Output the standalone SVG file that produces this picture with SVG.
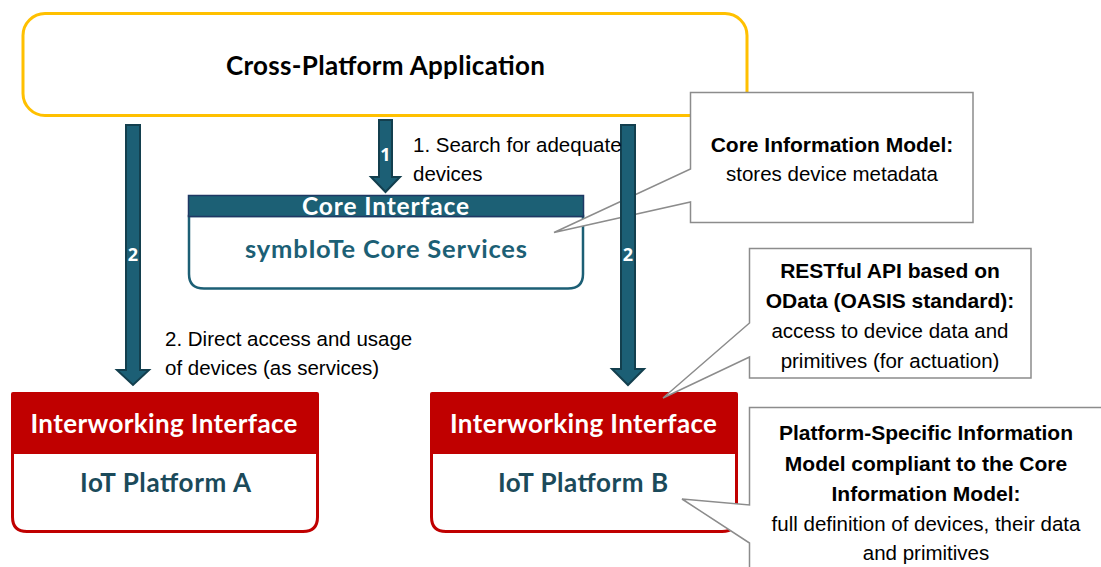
<svg xmlns="http://www.w3.org/2000/svg" width="1101" height="567" viewBox="0 0 1101 567">
<style>
.title{font-family:Lato,"Open Sans","Liberation Sans",sans-serif;font-weight:700;text-anchor:middle}
.arial{font-family:"Liberation Sans",Arial,sans-serif;font-size:20.5px;fill:#000}
.cb{font-family:"Liberation Sans",Arial,sans-serif;font-size:21px;font-weight:700;fill:#000;text-anchor:middle}
.cr{font-family:"Liberation Sans",Arial,sans-serif;font-size:20.5px;fill:#000;text-anchor:middle}
.callout{fill:#fff;stroke:#8c8c8c;stroke-width:1.5}
.arrow{fill:#1c5f75;stroke:#133f4e;stroke-width:2;stroke-linejoin:miter}
.num{font-family:"Open Sans","Liberation Sans",sans-serif;font-weight:700;font-size:18px;fill:#fff;text-anchor:middle}
.red{fill:#c00000}
.redbody{fill:#fff;stroke:#c00000;stroke-width:3}
</style>
<rect width="1101" height="567" fill="#fff"/>

<g id="app">
<rect x="23" y="13.5" width="724" height="102" rx="22" ry="22" fill="#fff" stroke="#ffc000" stroke-width="3"/>
<text class="title" x="385.5" y="75" font-size="26" fill="#000" textLength="319">Cross-Platform Application</text>
</g>

<g id="core">
<path d="M189,216 H583 V274 Q583,288.5 568,288.5 H204 Q189,288.5 189,274 Z" fill="#fff" stroke="#1c5f75" stroke-width="2.5"/>
<rect x="188.5" y="195.5" width="395" height="21" fill="#1c6075" stroke="#1f3864" stroke-width="1.5"/>
<text class="title" x="385.5" y="215" font-size="24.5" fill="#fff" textLength="167">Core Interface</text>
<text class="title" x="386" y="258" font-size="25.5" fill="#1c5f75" textLength="282">symbIoTe Core Services</text>
</g>

<g id="callout-cim">
<path class="callout" d="M690.5,92.5 H973 V222.5 H690.5 V202 L554,232.5 L690.5,169 Z"/>
<text class="cb" x="832" y="152">Core Information Model:</text>
<text class="cr" x="832" y="181">stores device metadata</text>
</g>

<g id="platformA">
<path class="redbody" d="M12.5,440 H317.5 V517 Q317.5,531.5 303,531.5 H27 Q12.5,531.5 12.5,517 Z"/>
<rect class="red" x="11" y="392" width="308" height="62" rx="2"/>
<text class="title" x="164" y="433" font-size="26" fill="#fff" textLength="267">Interworking Interface</text>
<text class="title" x="165.5" y="492" font-size="26" fill="#1b4a5a" textLength="171">IoT Platform A</text>
</g>

<g id="platformB">
<path class="redbody" d="M431.5,440 H736.5 V517 Q736.5,531.5 722,531.5 H446 Q431.5,531.5 431.5,517 Z"/>
<rect class="red" x="430" y="392" width="308" height="62" rx="2"/>
<text class="title" x="583.5" y="433" font-size="26" fill="#fff" textLength="267">Interworking Interface</text>
<text class="title" x="583" y="492" font-size="26" fill="#1b4a5a" textLength="170">IoT Platform B</text>
</g>

<g id="callout-rest">
<path class="callout" d="M749.5,248.5 H1031 V378 H749.5 V357 L663,398 L749.5,323 Z"/>
<text class="cb" x="890" y="278">RESTful API based on</text>
<text class="cb" x="890" y="308">OData (OASIS standard):</text>
<text class="cr" x="890" y="338">access to device data and</text>
<text class="cr" x="890" y="368">primitives (for actuation)</text>
</g>

<g id="callout-psim">
<path class="callout" d="M749.5,407.5 H1110 V580 H749.5 V543 L682,499 L749.5,505 Z"/>
<text class="cb" x="926" y="440">Platform-Specific Information</text>
<text class="cb" x="926" y="470.5">Model compliant to the Core</text>
<text class="cb" x="926" y="500.5">Information Model:</text>
<text class="cr" x="926" y="530.5">full definition of devices, their data</text>
<text class="cr" x="926" y="560">and primitives</text>
</g>

<g id="connectors">
<polygon class="arrow" points="126,125 140,125 140,370 149,370 133,385 117,370 126,370"/>
<text class="num" x="133" y="261">2</text>
<polygon class="arrow" points="379,120 392,120 392,177 400,177 385.5,192 371,177 379,177"/>
<text class="num" x="385.5" y="161">1</text>
<polygon class="arrow" points="621,125 635,125 635,369 644,369 628,385 612,369 621,369"/>
<text class="num" x="628" y="261">2</text>
<text class="arial" x="413" y="152">1. Search for adequate</text>
<text class="arial" x="413" y="181">devices</text>
<text class="arial" x="165" y="346">2. Direct access and usage</text>
<text class="arial" x="165" y="375">of devices (as services)</text>
</g>
</svg>
